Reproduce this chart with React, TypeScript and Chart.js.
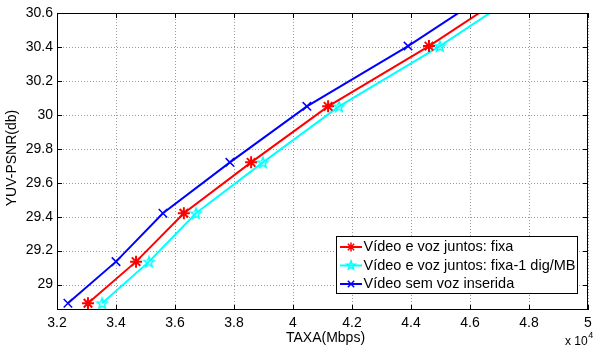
import React, { useEffect, useRef } from "react";
import { Chart, registerables } from "chart.js";

Chart.register(...registerables);

const yValues = [28.89, 29.135, 29.42, 29.72, 30.05, 30.405, 30.776];
const xFixa = [33050, 34680, 36300, 38580, 41190, 44610, 47850];
const xFixa1 = [33530, 35120, 36710, 38980, 41560, 44980, 48200];
const xSemVoz = [32370, 34000, 35590, 37860, 40470, 43900, 47150];
const xTicks = [32000, 34000, 36000, 38000, 40000, 42000, 44000, 46000, 48000, 50000];
const yTicks = [29, 29.2, 29.4, 29.6, 29.8, 30, 30.2, 30.4, 30.6];
const seriesLabels = [
  "Vídeo e voz juntos: fixa",
  "Vídeo e voz juntos: fixa-1 dig/MB",
  "Vídeo sem voz inserida",
];
const xTitle = "TAXA(Mbps)";
const yTitle = "YUV-PSNR(db)";

const RED = "#ff0000";
const CYAN = "#00ffff";
const BLUE = "#0000ff";
const FONT = "Liberation Sans, Arial, sans-serif";

function pentagramPath(ctx: CanvasRenderingContext2D, cx: number, cy: number, r: number) {
  const inner = r * 0.42;
  ctx.beginPath();
  for (let i = 0; i < 10; i++) {
    const rad = i % 2 === 0 ? r : inner;
    const a = -Math.PI / 2 + (i * Math.PI) / 5;
    const px = cx + rad * Math.cos(a);
    const py = cy + rad * Math.sin(a);
    if (i === 0) ctx.moveTo(px, py);
    else ctx.lineTo(px, py);
  }
  ctx.closePath();
}

function makePentagram(r: number, color: string, lw: number) {
  const size = Math.ceil(r * 2 + lw * 2 + 2);
  const c = document.createElement("canvas");
  c.width = size;
  c.height = size;
  const g = c.getContext("2d")!;
  g.strokeStyle = color;
  g.lineWidth = lw;
  g.lineJoin = "miter";
  pentagramPath(g, size / 2, size / 2 + 0.5, r);
  g.stroke();
  return c;
}

function drawMarker(ctx: CanvasRenderingContext2D, kind: string, x: number, y: number, r: number, color: string) {
  ctx.save();
  ctx.strokeStyle = color;
  ctx.lineWidth = 1.5;
  ctx.beginPath();
  if (kind === "star") {
    ctx.moveTo(x - r, y); ctx.lineTo(x + r, y);
    ctx.moveTo(x, y - r); ctx.lineTo(x, y + r);
    const d = r * Math.SQRT1_2;
    ctx.moveTo(x - d, y - d); ctx.lineTo(x + d, y + d);
    ctx.moveTo(x - d, y + d); ctx.lineTo(x + d, y - d);
    ctx.stroke();
  } else if (kind === "cross") {
    const d = r * Math.SQRT1_2;
    ctx.moveTo(x - d, y - d); ctx.lineTo(x + d, y + d);
    ctx.moveTo(x - d, y + d); ctx.lineTo(x + d, y - d);
    ctx.stroke();
  } else {
    pentagramPath(ctx, x, y, r);
    ctx.stroke();
  }
  ctx.restore();
}

const overlayPlugin = {
  id: "matlabOverlay",
  beforeDatasetsDraw(chart: any) {
    const ctx: CanvasRenderingContext2D = chart.ctx;
    const { left, right, top, bottom } = chart.chartArea;
    const xs = chart.scales.x;
    const ys = chart.scales.y;
    ctx.save();
    ctx.strokeStyle = "#9a9a9a";
    ctx.lineWidth = 1;
    ctx.setLineDash([1, 2]);
    ctx.beginPath();
    xTicks.forEach((v) => {
      const px = Math.round(xs.getPixelForValue(v)) + 0.5;
      ctx.moveTo(px, top); ctx.lineTo(px, bottom);
    });
    yTicks.forEach((v) => {
      const py = Math.round(ys.getPixelForValue(v)) + 0.5;
      ctx.moveTo(left, py); ctx.lineTo(right, py);
    });
    ctx.stroke();
    ctx.restore();
  },
  afterDraw(chart: any) {
    const ctx: CanvasRenderingContext2D = chart.ctx;
    const { left, right, top, bottom } = chart.chartArea;
    const xs = chart.scales.x;
    const ys = chart.scales.y;
    ctx.save();
    // box
    ctx.strokeStyle = "#000";
    ctx.lineWidth = 1;
    ctx.strokeRect(Math.round(left) + 0.5, Math.round(top) + 0.5, Math.round(right - left) - 1, Math.round(bottom - top) - 1);
    // inward ticks
    ctx.beginPath();
    const tl = 5;
    xTicks.forEach((v) => {
      const px = Math.round(xs.getPixelForValue(v)) + 0.5;
      ctx.moveTo(px, bottom); ctx.lineTo(px, bottom - tl);
      ctx.moveTo(px, top); ctx.lineTo(px, top + tl);
    });
    yTicks.forEach((v) => {
      const py = Math.round(ys.getPixelForValue(v)) + 0.5;
      ctx.moveTo(left, py); ctx.lineTo(left + tl, py);
      ctx.moveTo(right, py); ctx.lineTo(right - tl, py);
    });
    ctx.stroke();

    // titles
    ctx.fillStyle = "#000";
    ctx.font = `14px ${FONT}`;
    ctx.textAlign = "center";
    ctx.textBaseline = "middle";
    ctx.fillText(xTitle, (left + right) / 2 + 3, 338);
    ctx.save();
    ctx.translate(12, 158);
    ctx.rotate(-Math.PI / 2);
    ctx.fillText(yTitle, 0, 0);
    ctx.restore();
    // x 10^4
    ctx.textAlign = "left";
    ctx.font = `12px ${FONT}`;
    const base = "x 10";
    ctx.fillText(base, 565, 342);
    const w = ctx.measureText(base).width;
    ctx.font = `9px ${FONT}`;
    ctx.fillText("4", 565 + w + 0.5, 336);

    // legend
    const lx = 336, ly = 236, lw = 241, lh = 57;
    ctx.fillStyle = "#fff";
    ctx.fillRect(lx, ly, lw, lh);
    ctx.strokeStyle = "#000";
    ctx.lineWidth = 1;
    ctx.strokeRect(lx + 0.5, ly + 0.5, lw, lh);
    const rows = [247, 265.5, 284];
    const colors = [RED, CYAN, BLUE];
    const kinds = ["star", "penta", "cross"];
    ctx.font = `14.5px ${FONT}`;
    ctx.textBaseline = "middle";
    rows.forEach((ry, i) => {
      ctx.strokeStyle = colors[i];
      ctx.lineWidth = 2;
      ctx.beginPath();
      ctx.moveTo(340, ry); ctx.lineTo(362, ry);
      ctx.stroke();
      drawMarker(ctx, kinds[i], 351, ry, 4.5, colors[i]);
      ctx.fillStyle = "#000";
      ctx.fillText(seriesLabels[i], 363.5, ry);
    });
    ctx.restore();
  },
};

export default function App() {
  const ref = useRef<HTMLCanvasElement>(null);
  useEffect(() => {
    document.body.style.margin = "0";
    const penta = makePentagram(5.5, CYAN, 1.5);
    const toPts = (xsArr: number[]) => xsArr.map((x, i) => ({ x, y: yValues[i] }));
    const chart = new Chart(ref.current!, {
      type: "scatter",
      data: {
        datasets: [
          {
            label: seriesLabels[2],
            data: toPts(xSemVoz),
            showLine: true,
            borderColor: BLUE,
            backgroundColor: BLUE,
            borderWidth: 2,
            pointStyle: "crossRot",
            pointRadius: 6,
            pointBorderWidth: 1.5,
            pointBorderColor: BLUE,
          },
          {
            label: seriesLabels[0],
            data: toPts(xFixa),
            showLine: true,
            borderColor: RED,
            backgroundColor: RED,
            borderWidth: 2,
            pointStyle: "star",
            pointRadius: 6,
            pointBorderWidth: 2,
            pointBorderColor: RED,
          },
          {
            label: seriesLabels[1],
            data: toPts(xFixa1),
            showLine: true,
            borderColor: CYAN,
            backgroundColor: CYAN,
            borderWidth: 2,
            pointStyle: penta as any,
            pointRadius: 6,
          },
        ],
      },
      options: {
        responsive: false,
        animation: false,
        layout: { autoPadding: false, padding: { top: 13, right: 5, left: 0, bottom: 0 } },
        plugins: { legend: { display: false }, tooltip: { enabled: false } },
        scales: {
          x: {
            type: "linear",
            min: 32000,
            max: 50000,
            afterBuildTicks: (s: any) => {
              s.ticks = xTicks.map((v) => ({ value: v }));
            },
            afterFit: (s: any) => {
              s.height = 42;
              s.paddingLeft = 0;
              s.paddingRight = 0;
            },
            ticks: {
              color: "#000",
              padding: 5,
              maxRotation: 0,
              autoSkip: false,
              font: { family: FONT, size: 14 },
              callback: (v: any) => String(Math.round(Number(v) / 1000) / 10),
            },
            grid: { display: false, drawTicks: false },
            border: { display: false },
          },
          y: {
            type: "linear",
            min: 28.85,
            max: 30.6,
            afterBuildTicks: (s: any) => {
              s.ticks = yTicks.map((v) => ({ value: v }));
            },
            afterFit: (s: any) => {
              s.width = 57;
              s.paddingTop = 0;
              s.paddingBottom = 0;
            },
            ticks: {
              color: "#000",
              padding: 4,
              autoSkip: false,
              font: { family: FONT, size: 14 },
              callback: (v: any) => String(parseFloat(Number(v).toFixed(1))),
            },
            grid: { display: false, drawTicks: false },
            border: { display: false },
          },
        },
      },
      plugins: [overlayPlugin],
    });
    return () => chart.destroy();
  }, []);
  return <canvas ref={ref} width={593} height={352} style={{ display: "block" }} />;
}
